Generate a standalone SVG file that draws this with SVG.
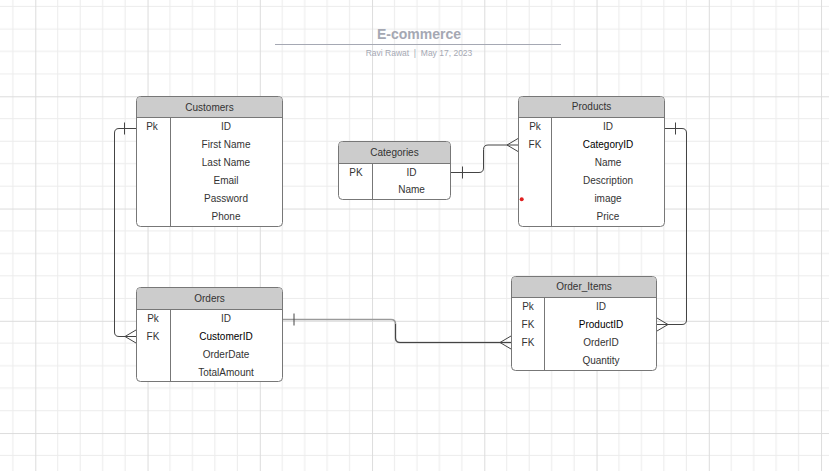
<svg xmlns="http://www.w3.org/2000/svg" width="829" height="471" viewBox="0 0 829 471">
<defs>
<pattern id="grid" patternUnits="userSpaceOnUse" x="35.3" y="96.3" width="112.25" height="112.25">
<path d="M22.45 0V112.25M44.9 0V112.25M67.35 0V112.25M89.8 0V112.25M0 22.45H112.25M0 44.9H112.25M0 67.35H112.25M0 89.8H112.25" stroke="#ececec" stroke-width="1" fill="none"/>
<path d="M0.5 0V112.25M0 0.5H112.25" stroke="#dcdcdc" stroke-width="1" fill="none"/>
</pattern>
<style>
.box{fill:#fff;stroke:#777;stroke-width:1}
.hdr{fill:#cccccc}
.sep{stroke:#777;stroke-width:1}
.t{font-family:"Liberation Sans",Arial,sans-serif;font-size:10px;fill:#333;text-anchor:middle;dominant-baseline:central}
.b{fill:#000}
.c{fill:none;stroke:#444;stroke-width:1}
</style>
</defs>
<rect width="829" height="471" fill="#fff"/>
<rect width="829" height="471" fill="url(#grid)"/>

<g id="title">
<text x="419" y="39" font-family="Liberation Sans,Arial,sans-serif" font-size="14" font-weight="bold" fill="#a5a8b3" text-anchor="middle">E-commerce</text>
<line x1="275" y1="44.5" x2="561" y2="44.5" stroke="#a5a8b3" stroke-width="1"/>
<text x="419" y="56" font-family="Liberation Sans,Arial,sans-serif" font-size="8.5" fill="#a5a8b3" text-anchor="middle" xml:space="preserve">Ravi Rawat  |  May 17, 2023</text>
</g>

<g id="connectors">
<!-- Customers -> Orders -->
<path class="c" d="M136 128.5H119Q114.5 128.5 114.5 133V332Q114.5 336.5 119 336.5H136"/>
<line class="c" x1="124.5" y1="122.5" x2="124.5" y2="134.5"/>
<path class="c" d="M136 330L125 336.5L136 343"/>
<!-- Categories -> Products -->
<path class="c" d="M451 172.5H479Q483.5 172.5 483.5 168V149.5Q483.5 145 488 145H518"/>
<line class="c" x1="462.5" y1="166.5" x2="462.5" y2="178.5"/>
<path class="c" d="M518 138.5L507 145L518 151.5"/>
<!-- Products -> Order_Items -->
<path class="c" d="M664 128.5H682Q686.5 128.5 686.5 133V320Q686.5 324.5 682 324.5H657"/>
<line class="c" x1="675.5" y1="122.5" x2="675.5" y2="134.5"/>
<path class="c" d="M657 318L668 324.5L657 331"/>
<!-- Orders -> Order_Items -->
<path d="M282 319.5H391Q395.5 319.5 395.5 324V338Q395.5 342.5 400 342.5H511" fill="none" stroke="#9a9a9a" stroke-width="1.6"/>
<path class="c" d="M395.5 324V338Q395.5 342.5 400 342.5H511"/>
<line class="c" x1="294" y1="313.5" x2="294" y2="325.5"/>
<path class="c" d="M511 336L500 342.5L511 349"/>
</g>

<g id="customers">
<rect class="box" x="136.5" y="96.5" width="146" height="130" rx="4"/>
<path class="hdr" d="M140.5 97H278.5Q282 97 282 100.5V117.5H137V100.5Q137 97 140.5 97Z"/>
<line class="sep" x1="136.5" y1="117.5" x2="282.5" y2="117.5"/>
<line class="sep" x1="170.5" y1="117.5" x2="170.5" y2="226.5"/>
<text class="t" x="209.5" y="107">Customers</text>
<text class="t" x="152" y="126">Pk</text>
<text class="t" x="226" y="126">ID</text>
<text class="t" x="226" y="144">First Name</text>
<text class="t" x="226" y="162">Last Name</text>
<text class="t" x="226" y="180">Email</text>
<text class="t" x="226" y="198">Password</text>
<text class="t" x="226" y="216">Phone</text>
</g>

<g id="categories">
<rect class="box" x="338.5" y="141.5" width="112" height="58" rx="4"/>
<path class="hdr" d="M342.5 142H446.5Q450 142 450 145.5V163.5H339V145.5Q339 142 342.5 142Z"/>
<line class="sep" x1="338.5" y1="163.5" x2="450.5" y2="163.5"/>
<line class="sep" x1="372.5" y1="163.5" x2="372.5" y2="199.5"/>
<text class="t" x="394.5" y="152">Categories</text>
<text class="t" x="356" y="172">PK</text>
<text class="t" x="411.5" y="172">ID</text>
<text class="t" x="411.5" y="189.5">Name</text>
</g>

<g id="products">
<rect class="box" x="518.5" y="96.5" width="146" height="130" rx="4"/>
<path class="hdr" d="M522.5 97H660.5Q664 97 664 100.5V117.5H519V100.5Q519 97 522.5 97Z"/>
<line class="sep" x1="518.5" y1="117.5" x2="664.5" y2="117.5"/>
<line class="sep" x1="551.5" y1="117.5" x2="551.5" y2="226.5"/>
<text class="t" x="591.5" y="106">Products</text>
<text class="t" x="535" y="126">Pk</text>
<text class="t" x="535" y="144">FK</text>
<text class="t" x="608" y="126">ID</text>
<text class="t b" x="608" y="144">CategoryID</text>
<text class="t" x="608" y="162">Name</text>
<text class="t" x="608" y="180">Description</text>
<text class="t" x="608" y="198">image</text>
<text class="t" x="608" y="216">Price</text>
<circle cx="521.7" cy="199.3" r="2" fill="#e02020"/>
</g>

<g id="orders">
<rect class="box" x="136.5" y="287.5" width="146" height="94" rx="4"/>
<path class="hdr" d="M140.5 288H278.5Q282 288 282 291.5V309.5H137V291.5Q137 288 140.5 288Z"/>
<line class="sep" x1="136.5" y1="309.5" x2="282.5" y2="309.5"/>
<line class="sep" x1="170.5" y1="309.5" x2="170.5" y2="381.5"/>
<text class="t" x="209.5" y="298">Orders</text>
<text class="t" x="153" y="318">Pk</text>
<text class="t" x="153" y="336">FK</text>
<text class="t" x="226" y="318">ID</text>
<text class="t b" x="226" y="336">CustomerID</text>
<text class="t" x="226" y="354">OrderDate</text>
<text class="t" x="226" y="372">TotalAmount</text>
</g>

<g id="order_items">
<rect class="box" x="511.5" y="276.5" width="145" height="94" rx="4"/>
<path class="hdr" d="M515.5 277H652.5Q656 277 656 280.5V297.5H512V280.5Q512 277 515.5 277Z"/>
<line class="sep" x1="511.5" y1="297.5" x2="656.5" y2="297.5"/>
<line class="sep" x1="544.5" y1="297.5" x2="544.5" y2="370.5"/>
<text class="t" x="584" y="286">Order_Items</text>
<text class="t" x="528" y="306.5">Pk</text>
<text class="t" x="528" y="324.5">FK</text>
<text class="t" x="528" y="342">FK</text>
<text class="t" x="601" y="306.5">ID</text>
<text class="t b" x="601" y="324.5">ProductID</text>
<text class="t" x="601" y="342">OrderID</text>
<text class="t" x="601" y="360">Quantity</text>
</g>
</svg>
